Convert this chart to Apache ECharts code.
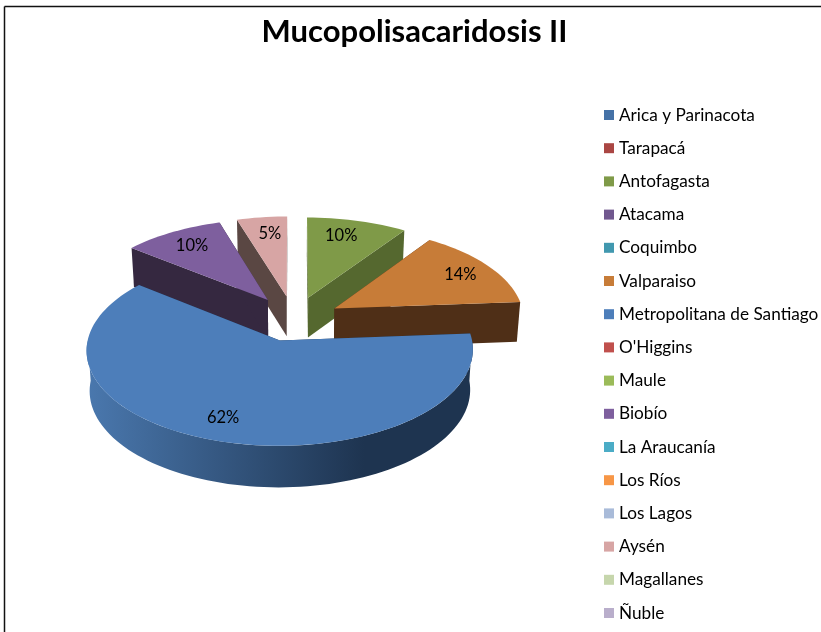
<!DOCTYPE html>
<html>
<head>
<meta charset="utf-8">
<title>Mucopolisacaridosis II</title>
<script src="https://cdn.jsdelivr.net/npm/echarts@6/dist/echarts.min.js"></script>
<style>
    html, body { margin: 0; padding: 0; background: #fff; }
    #grafico { width: 821px; height: 632px; }
</style>
</head>
<body>
<div id="grafico"></div>
<script>
(function () {
    "use strict";

    var titulo = 'Mucopolisacaridosis II';

    var regiones = [
        'Arica y Parinacota', 'Tarapacá', 'Antofagasta', 'Atacama',
        'Coquimbo', 'Valparaiso', 'Metropolitana de Santiago', "O'Higgins",
        'Maule', 'Biobío', 'La Araucanía', 'Los Ríos',
        'Los Lagos', 'Aysén', 'Magallanes', 'Ñuble'
    ];

    var casos = [0, 0, 2, 0, 0, 3, 13, 0, 0, 2, 0, 0, 0, 1, 0, 0];

    var colores = [
        '#4572A7', '#AA4643', '#7F9A48', '#71588F',
        '#4198AF', '#C77C38', '#4D7EBA', '#C0504D',
        '#9BBB59', '#7E5F9E', '#4BACC6', '#F79646',
        '#A9BBD9', '#D7A5A4', '#C6D6AC', '#B9AECB'
    ];

    // estilo de cada trozo visible: color de las paredes, retoque de posicion y de la etiqueta
    var estilos = {
        'Antofagasta': { corte: '#55682F', dx: 1.5, dy: 0.5, esc: 1, etiX: -6, etiY: -1 },
        'Valparaiso': { corte: '#4F2F17', dx: 3, dy: 2, esc: 1, etiX: 5, etiY: 0 },
        'Metropolitana de Santiago': { corte: '#1E3450', dx: -1, dy: 3, esc: 0.99, etiX: 0, etiY: 2 },
        'Biobío': { corte: '#352840', dx: -2, dy: 0, esc: 1, etiX: 0, etiY: -1 },
        'Aysén': { corte: '#5A4743', dx: -1, dy: 0, esc: 1, etiX: 3, etiY: 0 }
    };

    var total = casos.reduce(function (a, b) { return a + b; }, 0);

    // parametros de la vista 3D
    var centroX = 294, centroY = 317;
    var radioX = 190, radioY = 91.7;
    var perspectiva = 0.0975;
    var alto = 40;
    var separacion = 0.23;
    var PASO = 2;

    function rad(g) { return g * Math.PI / 180; }

    function proyectar(u, v, abajo) {
        var s = 1 / (1 + perspectiva * v);
        return [
            centroX + radioX * u * s * (abajo ? 0.985 : 1),
            centroY - radioY * v * s + (abajo ? alto * (1 + (s - 1) * 0.3) : 0)
        ];
    }

    // angulos de inicio y fin de cada trozo, desde las 12 en sentido horario
    var angulos = [];
    var acumulado = 0;
    casos.forEach(function (c) {
        var fin = acumulado + c / total * 360;
        angulos.push([acumulado, fin]);
        acumulado = fin;
    });

    function pintarTrozo(params, api) {
        var i = params.seriesIndex;
        var valor = api.value(0);
        if (!valor) {
            return { type: 'group', children: [] };
        }
        var est = estilos[regiones[i]];
        var ini = angulos[i][0], fin = angulos[i][1];
        var medio = rad((ini + fin) / 2);
        var ex = separacion * Math.sin(medio), ez = separacion * Math.cos(medio);

        function punto(g, r, abajo) {
            var p = proyectar(
                ex + est.esc * r * Math.sin(rad(g)),
                ez + est.esc * r * Math.cos(rad(g)),
                abajo
            );
            return [p[0] + est.dx, p[1] + est.dy];
        }
        function arco(a, b, abajo) {
            var pts = [];
            for (var g = a; g < b; g += PASO) {
                pts.push(punto(g, 1, abajo));
            }
            pts.push(punto(b, 1, abajo));
            return pts;
        }
        function pared(g) {
            return {
                type: 'polygon',
                shape: { points: [punto(g, 0, false), punto(g, 1, false), punto(g, 1, true), punto(g, 0, true)] },
                style: { fill: est.corte }
            };
        }

        var hijos = [pared(ini), pared(fin)];

        // lado curvo, solo la parte que mira al frente
        var a = Math.max(ini, 90), b = Math.min(fin, 270);
        if (a < b) {
            var relleno = est.corte;
            if (regiones[i] === 'Metropolitana de Santiago') {
                relleno = new echarts.graphic.LinearGradient(87, 0, 472, 0, [
                    { offset: 0, color: '#4A78AE' },
                    { offset: 0.72, color: '#1E3450' },
                    { offset: 1, color: '#1E3450' }
                ], true);
            }
            hijos.push({
                type: 'polygon',
                shape: { points: arco(a, b, false).concat(arco(a, b, true).reverse()) },
                style: { fill: relleno }
            });
        }

        // cara superior
        hijos.push({
            type: 'polygon',
            shape: { points: [punto(ini, 0, false)].concat(arco(ini, fin, false)) },
            style: { fill: colores[i] }
        });

        // etiqueta de porcentaje
        var pos = punto((ini + fin) / 2 + (regiones[i] === 'Metropolitana de Santiago' ? 3 : 0), 0.78, false);
        hijos.push({
            type: 'text',
            style: {
                text: Math.round(valor / total * 100) + '%',
                x: pos[0] + est.etiX,
                y: pos[1] + est.etiY,
                align: 'center',
                verticalAlign: 'middle',
                fontFamily: 'Lato',
                fontSize: 16.5,
                fill: '#000'
            }
        });

        return { type: 'group', children: hijos };
    }

    // se pinta primero lo que queda mas atras
    var orden = regiones.map(function (r, i) {
        return Math.cos(rad((angulos[i][0] + angulos[i][1]) / 2));
    });

    var series = regiones.map(function (nombre, i) {
        return {
            name: nombre,
            type: 'custom',
            coordinateSystem: 'none',
            renderItem: pintarTrozo,
            data: [casos[i]],
            itemStyle: { color: colores[i] },
            z: 3 - orden[i],
            silent: true
        };
    });

    var grafico = echarts.init(document.getElementById('grafico'));
    grafico.setOption({
        animation: false,
        backgroundColor: '#fff',
        title: {
            text: titulo,
            left: 414.5,
            top: 16.5,
            padding: 0,
            textAlign: 'center',
            textStyle: {
                fontFamily: 'Lato',
                fontWeight: 'bold',
                fontSize: 31,
                color: '#000'
            }
        },
        legend: {
            orient: 'vertical',
            left: 604,
            top: 105,
            padding: 0,
            selectedMode: false,
            icon: 'rect',
            itemWidth: 10,
            itemHeight: 10,
            itemGap: 13.2,
            data: regiones,
            textStyle: {
                fontFamily: 'Lato',
                fontSize: 17.2,
                lineHeight: 20,
                color: '#000'
            }
        },
        graphic: [
            { type: 'line', silent: true, shape: { x1: 4.5, y1: 6.5, x2: 821, y2: 6.5 }, style: { stroke: '#111', lineWidth: 1.5 } },
            { type: 'line', silent: true, shape: { x1: 4.5, y1: 6.5, x2: 4.5, y2: 632 }, style: { stroke: '#111', lineWidth: 1.5 } }
        ],
        series: series
    });
}());
</script>
</body>
</html>
